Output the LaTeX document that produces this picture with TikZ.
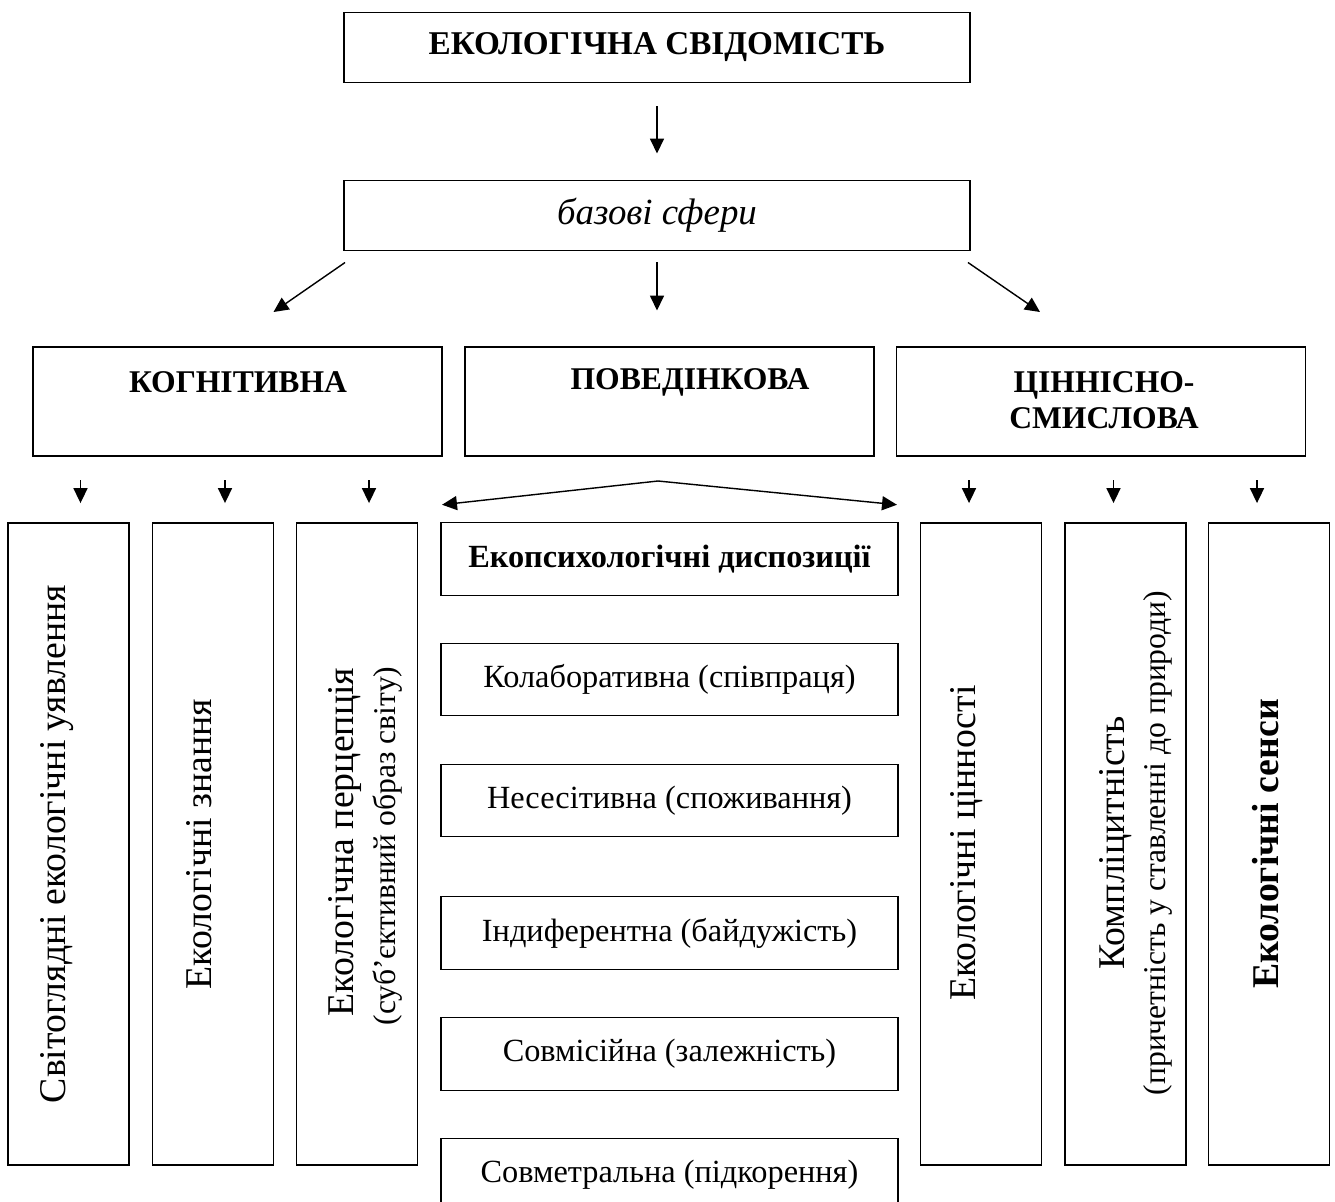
\documentclass[tikz,border=0pt]{standalone}
\usepackage{fontspec}
\setmainfont{Liberation Serif}
\usetikzlibrary{arrows.meta, positioning, calc}

\tikzset{
  frame/.style={draw, line width=0.8pt, inner sep=0pt, outer sep=0pt},
  wide/.style={frame, minimum width=12.52cm, minimum height=1.4cm},
  sphere/.style={frame, minimum width=8.18cm, minimum height=2.18cm},
  column/.style={frame, minimum width=2.42cm, minimum height=12.84cm},
  disp/.style={frame, minimum width=9.14cm, minimum height=1.45cm, font=\fontsize{18.4}{21}\selectfont},
  head/.style={font=\bfseries\fontsize{18}{20.5}\selectfont, align=center},
  big/.style={rotate=90, font=\fontsize{21.5}{25}\selectfont},
  small/.style={rotate=90, font=\fontsize{18}{21}\selectfont},
  tip/.tip={Triangle[length=8.5pt, width=8pt]},
  arr/.style={-tip, line width=0.8pt}
}

\begin{document}
\begin{tikzpicture}[x=0.02cm, y=-0.02cm]
  \clip (0,0) rectangle (1335,1202);

  % top of the scheme
  \node[wide, font=\bfseries\fontsize{18.9}{22}\selectfont] (eco) at (657,47.5) {ЕКОЛОГІЧНА СВІДОМІСТЬ};
  \node[wide, font=\itshape\fontsize{21}{25}\selectfont] (base) at (657,215.5) {базові сфери};
  \draw[arr] ([yshift=-0.48cm]eco.south) -- ([yshift=0.54cm]base.north);

  % three spheres
  \node[sphere] (cog) at (237.5,401.5) {};
  \node[sphere] (beh) at (669.5,401.5) {};
  \node[sphere] (val) at (1101,401.5) {};
  \node[head] (cogT) at (238,382) {КОГНІТИВНА};
  \node[head] (behT) at (690,382) {ПОВЕДІНКОВА};
  \node[head] (valT) at (1104,400) {ЦІННІСНО-\\СМИСЛОВА};

  \draw[arr] ($(base.south west)+(1,12)$) -- ($(cog.north)+(36,-35)$);
  \draw[arr] ($(base.south)+(0,12)$) -- ++(0,48);
  \draw[arr] ($(base.south east)+(-2,12)$) -- ($(val.north)+(-61,-35)$);

  % columns
  \foreach \n/\x in {v1/68.5, v2/213, v3/357, v4/981, v5/1125.5, v6/1269}
    \node[column] (\n) at (\x,844) {};
  \node[big] (v1T) at (57,844) {Світоглядні екологічні уявлення};
  \node[big] (v2T) at (199,844) {Екологічні знання};
  \node[big] (v3T) at (345,842) {Екологічна перцепція};
  \node[small] (v3S) at (388,846) {(суб’єктивний образ світу)};
  \node[big] (v4T) at (967,843) {Екологічні цінності};
  \node[big] (v5T) at (1116,843) {Компліцитність};
  \node[small] (v5S) at (1158,843) {(причетність у ставленні до природи)};
  \node[big, font=\bfseries\fontsize{21.5}{25}\selectfont] (v6T) at (1266,844) {Екологічні сенси};

  \foreach \n/\dx in {v1/12, v2/12, v3/12, v4/-12, v5/-12, v6/-12}
    \draw[arr] ($(\n.north)+(\dx,-43)$) -- ++(0,23);

  % dispositions
  \node[disp, font=\bfseries\fontsize{18.4}{21}\selectfont] (m0) at (669.5,559) {Екопсихологічні диспозиції\hspace{0.28cm}};
  \node[disp] (m1) at (669.5,679.5) {Колаборативна (співпраця)};
  \node[disp] (m2) at (669.5,800.5) {Несесітивна (споживання)};
  \node[disp] (m3) at (669.5,933) {Індиферентна (байдужість)};
  \node[disp] (m4) at (669.5,1054) {Совмісійна (залежність)};
  \node[disp] (m5) at (669.5,1174.5) {Совметральна (підкорення)};

  \coordinate (apex) at (658,481);
  \draw[tip-tip, line width=0.8pt] ($(m0.north west)+(1,-18)$) -- (apex) -- ($(m0.north east)+(-1,-18)$);
\end{tikzpicture}
\end{document}
